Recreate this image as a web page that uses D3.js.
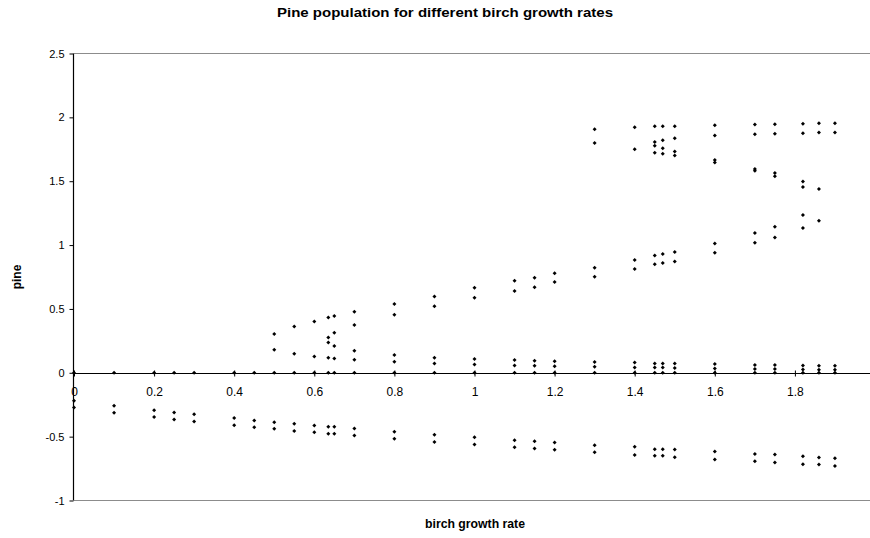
<!DOCTYPE html>
<html>
<head>
<meta charset="utf-8">
<script src="https://cdn.jsdelivr.net/npm/d3@7/dist/d3.min.js"></script>
<style>
  html, body { margin: 0; padding: 0; background: #fff; }
  svg { display: block; font-family: "Liberation Sans", Arial, sans-serif; }
</style>
</head>
<body>
<svg id="chart" width="870" height="538"></svg>
<script>
// ---- data ----
const birchRates = [0, 0.1, 0.2, 0.25, 0.3, 0.4, 0.45, 0.5, 0.55, 0.6, 0.635, 0.65, 0.7, 0.8, 0.9, 1.0, 1.1, 1.15, 1.2, 1.3, 1.4, 1.45, 1.47, 1.5, 1.6, 1.7, 1.75, 1.82, 1.86, 1.9];
const pineZero = birchRates.map(() => 0);
const pineNegUpper = [-0.219,-0.259,-0.293,-0.311,-0.324,-0.355,-0.373,-0.387,-0.400,-0.413,-0.423,-0.423,-0.437,-0.462,-0.486,-0.504,-0.528,-0.536,-0.546,-0.567,-0.580,-0.598,-0.598,-0.601,-0.617,-0.635,-0.640,-0.653,-0.664,-0.669];
const pineNegLower = [-0.272,-0.313,-0.347,-0.366,-0.381,-0.410,-0.426,-0.439,-0.455,-0.465,-0.478,-0.478,-0.492,-0.517,-0.541,-0.562,-0.583,-0.593,-0.603,-0.622,-0.643,-0.650,-0.650,-0.661,-0.679,-0.692,-0.703,-0.716,-0.718,-0.729];
const pineMidA = [null,null,null,null,null,null,null,0.303,0.363,0.402,0.433,0.444,0.478,0.538,0.598,0.666,0.72,0.745,0.78,0.823,0.883,0.919,0.930,0.946,1.013,1.095,1.144,1.236,1.191,null];
const pineMidB = [null,null,null,null,null,null,null,null,null,null,0.277,0.313,0.374,0.455,0.520,0.588,0.64,0.67,0.71,0.752,0.812,0.849,0.860,0.872,0.940,1.019,1.060,1.134,null,null];
const pineSmallA = [null,null,null,null,null,null,null,0.180,0.149,0.128,0.238,0.209,0.172,0.139,0.118,0.107,0.10,0.095,0.09,0.084,0.081,0.073,0.073,0.073,0.068,0.060,0.060,0.057,0.055,0.055];
const pineSmallB = [null,null,null,null,null,null,null,null,null,null,0.118,0.112,0.102,0.086,0.073,0.065,0.058,0.055,0.052,0.047,0.042,0.042,0.042,0.037,0.034,0.029,0.029,0.026,0.024,0.024];
const pineHighA = [null,null,null,null,null,null,null,null,null,null,null,null,null,null,null,null,null,null,null,1.907,1.923,1.930,1.930,1.930,1.938,1.944,1.946,1.949,1.954,1.954];
const pineHighB = [null,null,null,null,null,null,null,null,null,null,null,null,null,null,null,null,null,null,null,1.800,1.750,1.808,1.821,1.836,1.857,1.868,1.871,1.876,1.881,1.881];
const pineHighC = [null,null,null,null,null,null,null,null,null,null,null,null,null,null,null,null,null,null,null,null,null,1.777,1.758,1.732,1.667,1.596,1.565,1.497,1.440,null];
const pineHighD = [null,null,null,null,null,null,null,null,null,null,null,null,null,null,null,null,null,null,null,null,null,1.722,1.716,1.701,1.646,1.581,1.538,1.455,null,null];
const xTicks = [0, 0.2, 0.4, 0.6, 0.8, 1, 1.2, 1.4, 1.6, 1.8];
const yTicks = [-1, -0.5, 0, 0.5, 1, 1.5, 2, 2.5];

const allSeries = [pineZero, pineNegUpper, pineNegLower, pineMidA, pineMidB, pineSmallA, pineSmallB, pineHighA, pineHighB, pineHighC, pineHighD];
const points = [];
allSeries.forEach(s => s.forEach((v, i) => { if (v !== null) points.push({x: birchRates[i], y: v}); }));

// ---- chart ----
(function () {
const svg = d3.select("#chart");
const plotLeft = 74, plotRight = 875, plotTop = 53.5, plotBottom = 500.5;
const x = d3.scaleLinear().domain([0, 2]).range([plotLeft, plotRight]);
const y = d3.scaleLinear().domain([-1, 2.5]).range([plotBottom, plotTop]);

// plot border lines top/bottom
svg.append("line").attr("x1", plotLeft).attr("x2", plotRight).attr("y1", plotTop).attr("y2", plotTop)
  .attr("stroke", "#8c8c8c").attr("stroke-width", 1);
svg.append("line").attr("x1", plotLeft).attr("x2", plotRight).attr("y1", plotBottom).attr("y2", plotBottom)
  .attr("stroke", "#8c8c8c").attr("stroke-width", 1);

// y axis
const yAxis = svg.append("g").attr("transform", `translate(${plotLeft - 0.5},0)`)
  .call(d3.axisLeft(y).tickValues(yTicks).tickSize(4).tickPadding(5).tickFormat(d => String(d)));
yAxis.select(".domain").remove();
yAxis.append("line").attr("x1", 0).attr("x2", 0).attr("y1", plotTop).attr("y2", plotBottom)
  .attr("stroke", "#000").attr("stroke-width", 1.2);
yAxis.selectAll("text").attr("font-size", 11).attr("fill", "#000")
  .attr("font-family", "'Liberation Sans', Arial, sans-serif");
yAxis.selectAll(".tick line").attr("stroke", "#000");

// x axis at y=0
const y0 = Math.round(y(0)) + 0.5;
const xAxis = svg.append("g").attr("transform", `translate(0,${y0})`)
  .call(d3.axisBottom(x).tickValues(xTicks).tickSize(3).tickPadding(11).tickFormat(d => String(d)));
xAxis.select(".domain").remove();
xAxis.append("line").attr("x1", plotLeft).attr("x2", plotRight).attr("y1", 0).attr("y2", 0)
  .attr("stroke", "#000").attr("stroke-width", 1);
xAxis.selectAll(".tick line").attr("y1", -3).attr("stroke", "#000");
xAxis.selectAll("text").attr("font-size", 12).attr("fill", "#000")
  .attr("font-family", "'Liberation Sans', Arial, sans-serif");

// points
const sym = d3.symbol().type(d3.symbolSquare).size(8);
svg.append("g").selectAll("path").data(points).join("path")
  .attr("d", sym)
  .attr("transform", d => `translate(${x(d.x)},${y(d.y)}) rotate(45)`)
  .attr("fill", "#000");

// titles
svg.append("text").attr("x", 445).attr("y", 17).attr("text-anchor", "middle")
  .attr("font-size", 12).attr("font-weight", "bold")
  .attr("textLength", 336).attr("lengthAdjust", "spacingAndGlyphs")
  .text("Pine population for different birch growth rates");
svg.append("text").attr("x", 475).attr("y", 528).attr("text-anchor", "middle")
  .attr("font-size", 12).attr("font-weight", "bold")
  .attr("textLength", 100).attr("lengthAdjust", "spacingAndGlyphs")
  .text("birch growth rate");
svg.append("text").attr("transform", "translate(21,277) rotate(-90)").attr("text-anchor", "middle")
  .attr("font-size", 12).attr("font-weight", "bold")
  .text("pine");
})();
</script>
</body>
</html>
